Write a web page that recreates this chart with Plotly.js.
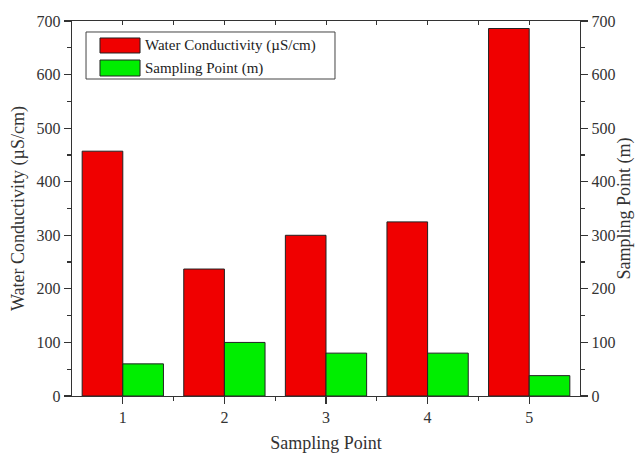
<!DOCTYPE html>
<html>
<head>
<meta charset="utf-8">
<script src="https://cdn.plot.ly/plotly-3.0.1.min.js"></script>
<style>html,body{margin:0;padding:0;background:#fff;}#chart{width:635px;height:454px;}</style>
</head>
<body>
<div id="chart"></div>
<script>
const categories = [1, 2, 3, 4, 5];
const conductivity = [457, 237, 300, 325, 686];
const samplingDepth = [60, 100, 80, 80, 38];
const yTicks = [0, 100, 200, 300, 400, 500, 600, 700];
const seriesNames = ['Water Conductivity (µS/cm)', 'Sampling Point (m)'];
const seriesColors = ['#f00000', '#00ee00'];

const FONT = 'Liberation Serif, Times New Roman, serif';
const AX = '#333333';

const traces = [
  {
    type: 'bar', x: categories, y: conductivity, name: seriesNames[0],
    width: 0.4, offset: -0.4,
    marker: {color: seriesColors[0], line: {color: '#222', width: 1}},
    xaxis: 'x', yaxis: 'y'
  },
  {
    type: 'bar', x: categories, y: samplingDepth, name: seriesNames[1],
    width: 0.4, offset: 0,
    marker: {color: seriesColors[1], line: {color: '#222', width: 1}},
    xaxis: 'x', yaxis: 'y2'
  },
  {type: 'scatter', x: [1], y: [0], xaxis: 'x2', yaxis: 'y', mode: 'markers',
   marker: {opacity: 0}, showlegend: false, hoverinfo: 'skip'}
];

// custom legend (larger swatches like the original)
const legendBox = {x0: 0.0276, x1: 0.5177, y0: 0.8453, y1: 0.9707};
const swatchX = [0.0551, 0.1339];
const swatchY = [[0.9147, 0.9547], [0.8533, 0.896]];
const shapes = [
  {type: 'rect', xref: 'paper', yref: 'paper', x0: legendBox.x0, x1: legendBox.x1, y0: legendBox.y0, y1: legendBox.y1,
   line: {color: '#444', width: 1}, fillcolor: '#fff', layer: 'above'}
];
const annotations = [];
seriesNames.forEach((n, i) => {
  shapes.push({type: 'rect', xref: 'paper', yref: 'paper', x0: swatchX[0], x1: swatchX[1],
    y0: swatchY[i][0], y1: swatchY[i][1], fillcolor: seriesColors[i], line: {color: '#222', width: 1}, layer: 'above'});
  annotations.push({xref: 'paper', yref: 'paper', x: 0.1398, y: (swatchY[i][0] + swatchY[i][1]) / 2,
    xanchor: 'left', yanchor: 'middle', showarrow: false, text: n,
    font: {family: FONT, size: 15, color: '#222'}});
});

const layout = {
  width: 635, height: 454,
  margin: {l: 72, r: 55, t: 21, b: 58},
  paper_bgcolor: '#fff', plot_bgcolor: '#fff',
  font: {family: FONT, color: '#333', size: 16},
  showlegend: false,
  shapes: shapes,
  annotations: annotations,
  xaxis: {
    range: [0.5, 5.5], tickvals: categories, ticktext: categories.map(String),
    ticks: 'outside', ticklen: 7, tickwidth: 1.2, tickcolor: AX,
    showline: true, linecolor: AX, linewidth: 1.2, showgrid: false, zeroline: false,
    minor: {tickvals: [1.5, 2.5, 3.5, 4.5], ticks: 'outside', ticklen: 4, tickcolor: AX, showgrid: false},
    tickfont: {family: FONT, size: 16, color: '#333'},
    title: {text: 'Sampling Point', font: {family: FONT, size: 18, color: '#333'}, standoff: 11}
  },
  xaxis2: {
    overlaying: 'x', side: 'top', matches: 'x', range: [0.5, 5.5], tickvals: categories,
    showticklabels: false, ticks: 'inside', ticklen: 4, tickcolor: AX,
    minor: {tickvals: [1.5, 2.5, 3.5, 4.5], ticks: 'inside', ticklen: 4, tickcolor: AX, showgrid: false},
    showline: true, linecolor: AX, linewidth: 1.2, showgrid: false, zeroline: false
  },
  yaxis: {
    range: [0, 700], tickvals: yTicks, ticks: 'outside', ticklen: 7, tickwidth: 1.2, tickcolor: AX,
    minor: {dtick: 50, ticks: 'outside', ticklen: 4, tickcolor: AX, showgrid: false},
    showline: true, linecolor: AX, linewidth: 1.2, showgrid: false, zeroline: false,
    tickfont: {family: FONT, size: 16, color: '#333'},
    title: {text: 'Water Conductivity (µS/cm)', font: {family: FONT, size: 18, color: '#333'}, standoff: 7}
  },
  yaxis2: {
    overlaying: 'y', side: 'right', range: [0, 700], tickvals: yTicks,
    ticks: 'outside', ticklen: 7, tickwidth: 1.2, tickcolor: AX,
    minor: {dtick: 50, ticks: 'outside', ticklen: 4, tickcolor: AX, showgrid: false},
    showline: true, linecolor: AX, linewidth: 1.2, showgrid: false, zeroline: false,
    tickfont: {family: FONT, size: 16, color: '#333'},
    title: {text: 'Sampling Point (m)', font: {family: FONT, size: 18, color: '#333'}, standoff: 13}
  }
};

Plotly.newPlot('chart', traces, layout, {displayModeBar: false, staticPlot: true});
</script>
</body>
</html>
